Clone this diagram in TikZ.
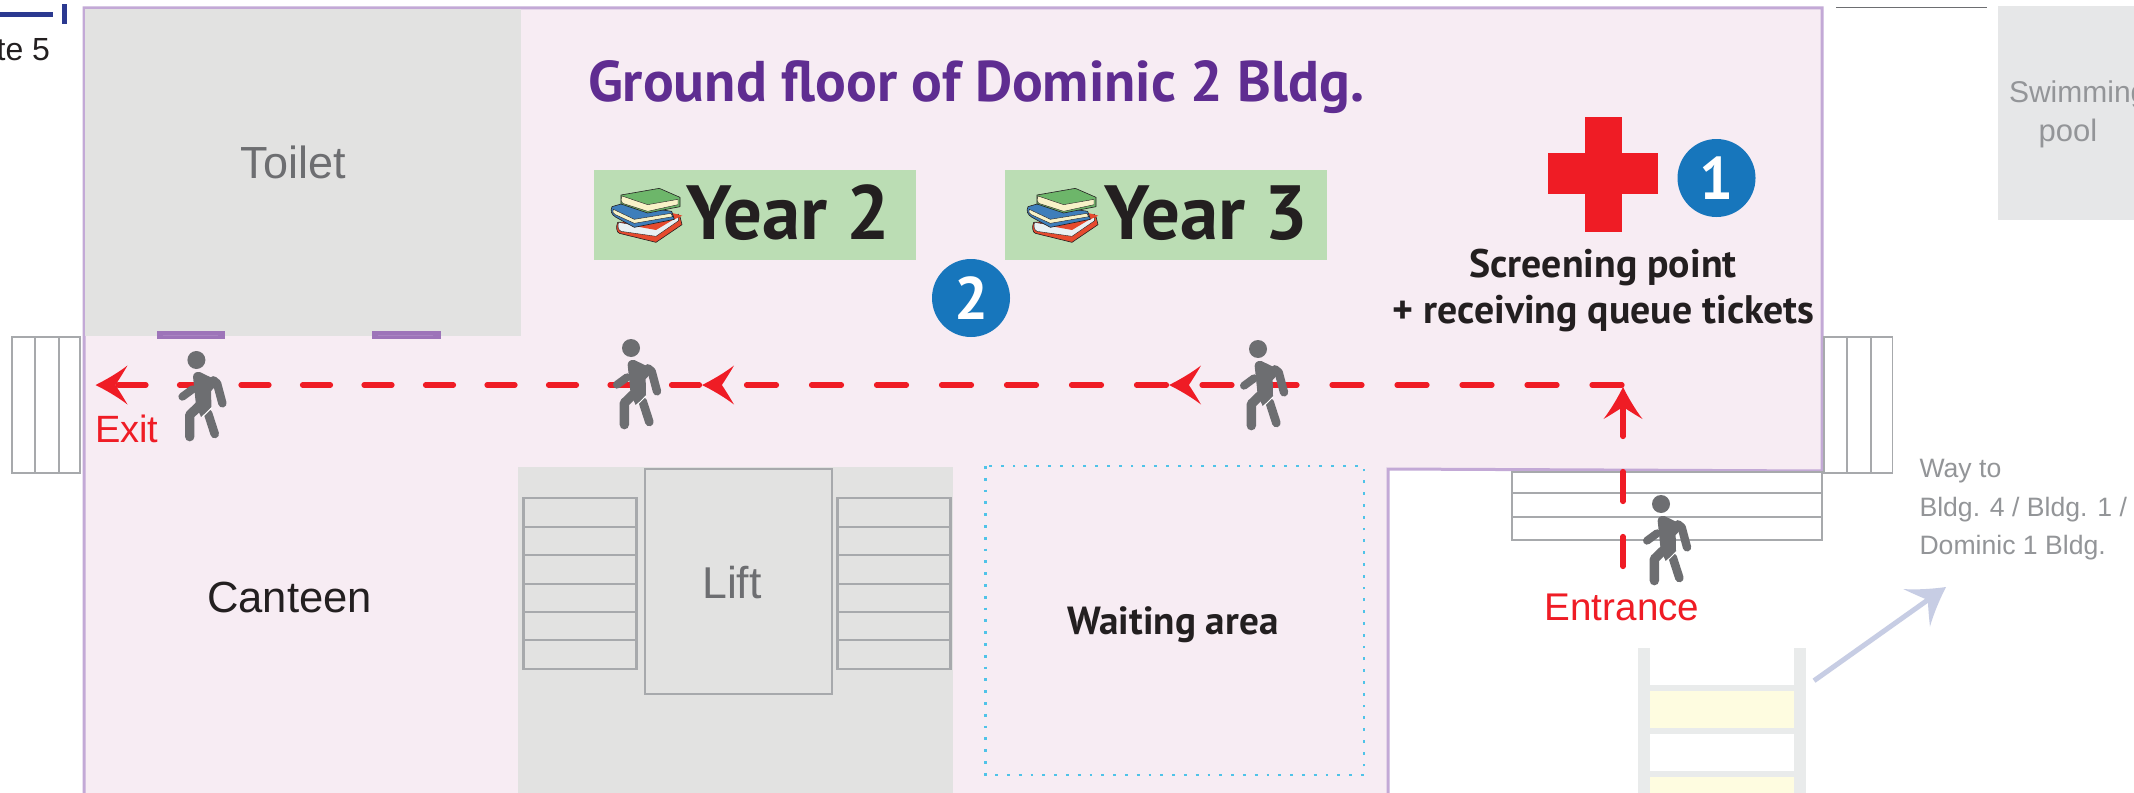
\documentclass[tikz,border=0pt]{standalone}
\usepackage{fontspec}
\setmainfont{Liberation Sans}
\newfontfamily\hum{PT Sans}
\usetikzlibrary{arrows.meta}
\definecolor{wallc}{HTML}{C3A9D6}
\definecolor{floorc}{HTML}{F7ECF3}
\definecolor{roomc}{HTML}{E2E2E1}
\definecolor{linec}{HTML}{A7A9AC}
\definecolor{manc}{HTML}{6D6E71}
\definecolor{redc}{HTML}{EF1C25}
\definecolor{bluec}{HTML}{1776BC}
\definecolor{greenc}{HTML}{BBDDB4}
\definecolor{purc}{HTML}{5F2D91}
\definecolor{doorc}{HTML}{9D74B9}
\definecolor{inkc}{HTML}{231F20}
\definecolor{softc}{HTML}{939598}
\definecolor{poolc}{HTML}{E6E7E8}
\definecolor{navyc}{HTML}{2B3990}
\definecolor{lavc}{HTML}{C7CDE4}
\definecolor{railc}{HTML}{E9EBEB}
\definecolor{yelc}{HTML}{FEFCE0}
\definecolor{dotc}{HTML}{4FC3E8}
\definecolor{bookgreen}{HTML}{6DB66A}
\definecolor{bookblue}{HTML}{3E7EBB}
\definecolor{bookred}{HTML}{E64A2E}
\definecolor{bookcream}{HTML}{F8F2C8}
\definecolor{bookpage}{HTML}{E9F0F3}
\pgfdeclarearrow{
  name=Dart,
  setup code={
    \pgfarrowssettipend{\pgfarrowlength}
    \pgfarrowssetlineend{.5\pgfarrowlength}
    \pgfarrowssetvisualbackend{.4\pgfarrowlength}
    \pgfarrowssetbackend{0pt}
    \pgfarrowshullpoint{\pgfarrowlength}{0pt}
    \pgfarrowsupperhullpoint{0pt}{.5\pgfarrowwidth}
    \pgfarrowssavethe\pgfarrowlength
    \pgfarrowssavethe\pgfarrowwidth
  },
  drawing code={
    \pgfpathmoveto{\pgfqpoint{\pgfarrowlength}{0pt}}
    \pgfpathcurveto{\pgfpoint{.7\pgfarrowlength}{.12\pgfarrowwidth}}{\pgfpoint{.3\pgfarrowlength}{.31\pgfarrowwidth}}{\pgfpoint{0pt}{.5\pgfarrowwidth}}
    \pgfpathcurveto{\pgfpoint{.12\pgfarrowlength}{.33\pgfarrowwidth}}{\pgfpoint{.28\pgfarrowlength}{.12\pgfarrowwidth}}{\pgfpoint{.38\pgfarrowlength}{0pt}}
    \pgfpathcurveto{\pgfpoint{.28\pgfarrowlength}{-.12\pgfarrowwidth}}{\pgfpoint{.12\pgfarrowlength}{-.33\pgfarrowwidth}}{\pgfpoint{0pt}{-.5\pgfarrowwidth}}
    \pgfpathcurveto{\pgfpoint{.3\pgfarrowlength}{-.31\pgfarrowwidth}}{\pgfpoint{.7\pgfarrowlength}{-.12\pgfarrowwidth}}{\pgfqpoint{\pgfarrowlength}{0pt}}
    \pgfpathclose
    \pgfusepathqfill
  },
  parameters={\the\pgfarrowlength,\the\pgfarrowwidth},
  defaults={length=16pt,width=19.5pt}
}
\tikzset{
  wall/.style={draw=wallc,line width=1.5pt,fill=floorc},
  room/.style={fill=roomc},
  stairline/.style={draw=linec,line width=1.1pt},
  stairthin/.style={draw=linec,line width=.8pt,fill=white},
  door/.style={fill=doorc},
  lab/.style={inner sep=0pt,outer sep=0pt},
  route/.style={draw=redc,line width=2.6pt,line cap=round,dash pattern=on 15pt off 17.5pt,-{Dart}},
  routeb/.style={draw=redc,line width=2.6pt,line cap=round,dash pattern=on 14pt off 16.75pt,-{Dart}},
  badge/.style={circle,fill=bluec,minimum size=39pt,inner sep=0pt,text=white,font=\hum\bfseries\fontsize{30}{30}\selectfont},
  yearbox/.style={fill=greenc,minimum width=161pt,minimum height=45pt,inner sep=0pt},
  yeartext/.style={lab,anchor=base west,text=inkc,font=\hum\bfseries\fontsize{38.4}{38.4}\selectfont},
  walker/.pic={
    \begin{scope}[scale=.3333,shift={(-114,-57)}]
      \fill[manc] (114,57) circle (27);
      \draw[manc,line width=4.3pt,line cap=round,line join=round] (149,217) -- (169,279);
      \draw[manc,line width=4.7pt,line cap=round,line join=round] (122,195) -- (94,222) -- (94,287);
      \draw[manc,line width=4pt,line cap=round] (102,145) -- (72,167);
      \draw[manc,line width=4.2pt,line cap=round,line join=round] (165,118) -- (176,127) -- (192,187);
      \fill[manc] (104,108) .. controls (104,98) and (112,91) .. (124,93) -- (184,122) -- (158,150) -- (159,199) -- (128,228) -- (113,195) -- cycle;
      \draw[white,line width=.5pt] (160,200) -- (132,228);
    \end{scope}
  },
  books/.pic={
    \begin{scope}[scale=.3333,line join=round]
      \filldraw[draw=inkc,line width=.3pt,fill=bookred] (35,115) .. controls (29,130) and (32,145) .. (40,148) -- (150,175) -- (228,122) -- (222,98) -- (150,110) -- cycle;
      \filldraw[draw=inkc,line width=.2pt,fill=bookpage] (38,115) .. controls (34,125) and (36,138) .. (45,142) -- (150,157) -- (218,110) -- (218,90) -- (150,135) -- cycle;
      \fill[bookred] (95,128) -- (205,105) -- (150,138) -- cycle;
      \fill[bookred] (195,86) -- (229,95) -- (205,106) -- cycle;
      \filldraw[draw=inkc,line width=.3pt,fill=bookblue] (18,68) .. controls (12,80) and (16,92) .. (30,100) -- (85,130) -- (205,106) -- (197,82) -- (45,60) -- cycle;
      \filldraw[draw=inkc,line width=.2pt,fill=bookcream] (22,76) .. controls (18,83) and (20,88) .. (28,92) -- (85,118) -- (200,98) -- (195,88) -- (85,106) -- cycle;
      \filldraw[draw=inkc,line width=.3pt,fill=bookgreen] (45,33) -- (160,13) -- (222,40) -- (222,68) -- (125,87) -- (45,60) -- cycle;
      \filldraw[draw=inkc,line width=.2pt,fill=bookcream] (48,36) .. controls (44,46) and (45,54) .. (50,58) -- (125,82) -- (216,62) -- (216,46) -- (125,62) -- cycle;
    \end{scope}
  }
}
\begin{document}
\begin{tikzpicture}[x=.5pt,y=-.5pt]
\clip (0,0) rectangle (2134,792);
\fill[white] (0,0) rectangle (2134,792);
% building
\draw[wall] (84,8) -- (1822,8) -- (1822,471) -- (1388,469) -- (1388,800) -- (84,800) -- cycle;
% toilet
\fill[room] (85,9) rectangle (521,336);
\fill[door] (157,331) rectangle (225,339);
\fill[door] (372,331) rectangle (441,339);
\draw[doorc!88!white,line width=.3pt] (163,335) -- (218,335) (378,335) -- (433,335);
% side stairs
\draw[stairthin] (12,337) rectangle (80,473);
\draw[stairthin] (35,337) -- (35,473) (59,337) -- (59,473);
\draw[stairthin] (1824,337) rectangle (1892.5,473);
\draw[stairthin] (1847,337) -- (1847,473) (1871,337) -- (1871,473);
% lift block
\fill[room] (518,467) rectangle (953,800);
\draw[stairline] (645,469) rectangle (832,694);
\foreach \xa/\xb in {523.5/636.5,837.5/950.5}{
  \draw[stairline] (\xa,498) rectangle (\xb,669);
  \foreach \yy in {527,555.3,583.7,612,640.3}
    \draw[stairline] (\xa,\yy) -- (\xb,\yy);
}
% waiting
\draw[dotc,line width=1.4pt,dash pattern=on 1.4pt off 4.5pt] (985.5,466) rectangle (1364,775);
% entrance steps
\draw[stairline,fill=white] (1512,472) rectangle (1822,540);
\draw[stairline] (1512,493) -- (1822,493) (1512,517) -- (1822,517);
% top-left and top-right marks
\fill[navyc] (0,12) rectangle (53,17);
\fill[navyc] (62,4) rectangle (67,24);
\draw[manc,line width=.75pt] (1836,7.5) -- (1987,7.5);
% swimming pool
\fill[poolc] (1998,6) rectangle (2140,220);
% ladder
\fill[yelc] (1650,691) rectangle (1794,728);
\fill[yelc] (1650,777) rectangle (1794,800);
\fill[railc] (1638,648) rectangle (1650,800);
\fill[railc] (1794,648) rectangle (1806,800);
\foreach \yy in {685,728,771}
  \fill[railc] (1650,\yy) rectangle (1794,\yy+6);
% cross
\fill[redc] (1585,117) rectangle (1622,232);
\fill[redc] (1548,153) rectangle (1658,194);
% year boxes
\node[yearbox,anchor=north west] (y2box) at (594,170) {};
\node[yearbox,anchor=north west] (y3box) at (1005,170) {};
\pic at (606,184) {books};
\pic at (1022,184) {books};
\node[yeartext] (y2) at (686,239) {Year 2};
\node[yeartext] (y3) at (1104,239) {Year 3};
% badges
\node[badge] (b1) at (1716.5,178) {1};
\node[badge] (b2) at (971,298) {2};
% route
\coordinate (entryStart) at (1623,566.5);
\coordinate (entryTip) at (1623,387);
\coordinate (turn) at (1622,385);
\coordinate (headA) at (1169,385);
\coordinate (tailB) at (1166.5,385);
\coordinate (headB) at (702,385);
\coordinate (tailC) at (699.5,385);
\coordinate (headC) at (95.5,385);
\draw[route] (entryStart) -- (entryTip);
\draw[route] (turn) -- (headA);
\draw[route] (tailB) -- (headB);
\draw[routeb] (tailC) -- (headC);
% way arrow
\coordinate (wayStart) at (1814,680.7);
\coordinate (wayTip) at (1946,587);
\draw[lavc,line width=2.5pt,-{Dart[length=18pt,width=23pt]}] (wayStart) -- (wayTip);
% walkers
\pic at (196.4,360) {walker};
\pic at (631,348) {walker};
\pic at (1258,349) {walker};
\pic at (1661,504) {walker};
% text
\node[lab,anchor=base east,text=inkc,font=\fontsize{16}{16}\selectfont] (gate) at (50,61) {te 5};
\node[lab,anchor=base west,text=purc,font=\hum\bfseries\fontsize{28.7}{28.7}\selectfont] (title) at (588,102) {Ground floor of Dominic 2 Bldg.};
\node[lab,anchor=base,text=manc,font=\fontsize{22.5}{22.5}\selectfont] (toilet) at (293,178) {Toilet};
\node[lab,anchor=base,text=inkc,font=\fontsize{21.8}{21.8}\selectfont] (canteen) at (289.5,612) {Canteen};
\node[lab,anchor=base,text=manc,font=\fontsize{22.3}{22.3}\selectfont] (lift) at (732,598) {Lift};
\node[lab,anchor=base,text=inkc,font=\hum\bfseries\fontsize{19.6}{19.6}\selectfont] (wait) at (1173,634) {Waiting area};
\node[lab,anchor=base,text=inkc,font=\hum\bfseries\fontsize{19.9}{19.9}\selectfont] (scr1) at (1603,277) {Screening point};
\node[lab,anchor=base,text=inkc,font=\hum\bfseries\fontsize{19.9}{19.9}\selectfont] (scr2) at (1603.5,323) {+ receiving queue tickets};
\node[lab,anchor=base west,text=redc,font=\fontsize{19}{19}\selectfont] (exit) at (95,442) {Exit};
\node[lab,anchor=base,text=redc,font=\fontsize{19.3}{19.3}\selectfont] (entr) at (1622,620.5) {Entrance};
\node[lab,anchor=base west,text=softc,font=\fontsize{15}{15}\selectfont] (sw1) at (2009,103) {Swimming};
\node[lab,anchor=base,text=softc,font=\fontsize{15.5}{15.5}\selectfont] (sw2) at (2068,141) {pool};
\node[lab,anchor=base west,text=softc,font=\fontsize{13.3}{13.3}\selectfont] (way1) at (1919.5,477) {Way to};
\node[lab,anchor=base west,text=softc,font=\fontsize{13.3}{13.3}\selectfont] (way2) at (1919.5,516) {Bldg. 4 / Bldg. 1 /};
\node[lab,anchor=base west,text=softc,font=\fontsize{13.3}{13.3}\selectfont] (way3) at (1919.5,554) {Dominic 1 Bldg.};
\end{tikzpicture}
\end{document}
